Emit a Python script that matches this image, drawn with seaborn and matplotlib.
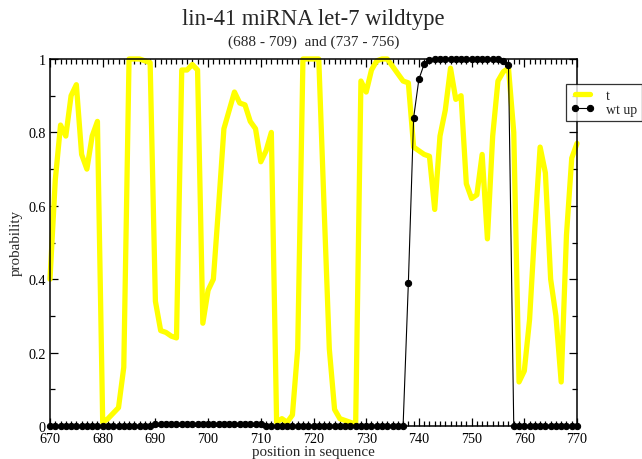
import numpy as np
import pandas as pd
import matplotlib
matplotlib.use("Agg")
import matplotlib.pyplot as plt
import seaborn as sns
from matplotlib.ticker import MultipleLocator, FuncFormatter

# ---- data ----
positions = list(range(670, 771))

t_values = [
    0.40, 0.67, 0.82, 0.79, 0.90, 0.93, 0.74, 0.70, 0.79, 0.83,   # 670-679
    0.01, 0.02, 0.035, 0.05, 0.16, 1.00, 1.00, 1.00, 0.995, 0.99,  # 680-689
    0.34, 0.26, 0.255, 0.245, 0.24, 0.97, 0.97, 0.985, 0.97, 0.28, # 690-699
    0.37, 0.40, 0.60, 0.81, 0.86, 0.91, 0.88, 0.875, 0.83, 0.81,   # 700-709
    0.72, 0.75, 0.80, 0.01, 0.02, 0.01, 0.03, 0.21, 1.00, 1.00,    # 710-719
    1.00, 1.00, 0.60, 0.21, 0.045, 0.02, 0.015, 0.01, 0.005, 0.94, # 720-729
    0.91, 0.97, 0.995, 1.00, 1.00, 0.98, 0.96, 0.94, 0.935, 0.76,  # 730-739
    0.75, 0.74, 0.735, 0.59, 0.79, 0.86, 0.975, 0.89, 0.90, 0.66,  # 740-749
    0.62, 0.63, 0.74, 0.51, 0.79, 0.94, 0.965, 0.975, 0.80, 0.12,  # 750-759
    0.15, 0.29, 0.54, 0.76, 0.69, 0.40, 0.30, 0.12, 0.52, 0.73,    # 760-769
    0.77,                                                          # 770
]

wt_up_values = [
    0, 0, 0, 0, 0, 0, 0, 0, 0, 0,                                  # 670-679
    0, 0, 0, 0, 0, 0, 0, 0, 0, 0,                                  # 680-689
    0.006, 0.006, 0.006, 0.006, 0.006, 0.006, 0.006, 0.006, 0.006, 0.006,  # 690-699
    0.006, 0.006, 0.006, 0.006, 0.006, 0.006, 0.006, 0.006, 0.006, 0.006,  # 700-709
    0.006, 0, 0, 0, 0, 0, 0, 0, 0, 0,                              # 710-719
    0, 0, 0, 0, 0, 0, 0, 0, 0, 0,                                  # 720-729
    0, 0, 0, 0, 0, 0, 0, 0, 0.39, 0.84,                            # 730-739
    0.945, 0.986, 0.997, 1, 1, 1, 1, 1, 1, 1,                      # 740-749
    1, 1, 1, 1, 1, 1, 0.995, 0.985, 0, 0,                          # 750-759
    0, 0, 0, 0, 0, 0, 0, 0, 0, 0,                                  # 760-769
    0,                                                             # 770
]

series_names = ["t", "wt up"]
title_text = "lin-41 miRNA let-7 wildtype"
subtitle_text = "(688 - 709)  and (737 - 756)"
x_label = "position in sequence"
y_label = "probability"

df = pd.DataFrame({"position": positions, "t": t_values, "wt up": wt_up_values})

sns.set_style("ticks")
plt.rcParams["font.family"] = ["Liberation Serif", "DejaVu Serif"]

fig = plt.figure(figsize=(6.42, 4.60), dpi=100)
ax = fig.add_axes([50 / 642, 1 - 427 / 460, 527 / 642, 367 / 460])

sns.lineplot(data=df, x="position", y="t", ax=ax, color="#ffff00",
             linewidth=3.8, label=series_names[0], zorder=2)
sns.lineplot(data=df, x="position", y="wt up", ax=ax, color="black",
             linewidth=0.8, marker="o", markersize=4.5,
             markeredgecolor="black", markerfacecolor="black",
             label=series_names[1], zorder=3)
for ln in ax.lines:
    ln.set_clip_on(False)

ax.set_xlim(670, 770)
ax.set_ylim(0, 1)
ax.xaxis.set_major_locator(MultipleLocator(10))
ax.xaxis.set_minor_locator(MultipleLocator(1))
ax.yaxis.set_major_locator(MultipleLocator(0.2))
ax.yaxis.set_minor_locator(MultipleLocator(0.1))
ax.yaxis.set_major_formatter(FuncFormatter(lambda v, p: f"{v:g}"))

ax.tick_params(which="both", direction="in", top=True, right=True,
               colors="black", labelsize=10.2, width=0.9)
ax.tick_params(which="major", length=6)
ax.tick_params(which="minor", length=3.5)
ax.tick_params(axis="x", which="major", pad=4.0)
ax.tick_params(axis="y", which="major", pad=3.0)
for s in ax.spines.values():
    s.set_linewidth(1.1)
    s.set_color("black")
    s.set_visible(True)

ax.set_xlabel(x_label, fontsize=10.8, labelpad=0.5)
ax.set_ylabel(y_label, fontsize=10.8, labelpad=4)

fig.text(313.5 / 642, 1 - 19 / 460, title_text, ha="center", va="center", fontsize=16.3)
fig.text(313.5 / 642, 1 - 42 / 460, subtitle_text, ha="center", va="center", fontsize=11)

leg = ax.legend(loc="upper left", bbox_to_anchor=((566 - 50) / 527, (427 - 85) / 367),
                frameon=True, fancybox=False, fontsize=10, handlelength=1.7,
                handletextpad=0.8, borderpad=0.35, labelspacing=0.1,
                borderaxespad=0, numpoints=2)
leg.get_frame().set_edgecolor("black")
leg.get_frame().set_linewidth(0.9)

fig.savefig("out.png", dpi=100)
